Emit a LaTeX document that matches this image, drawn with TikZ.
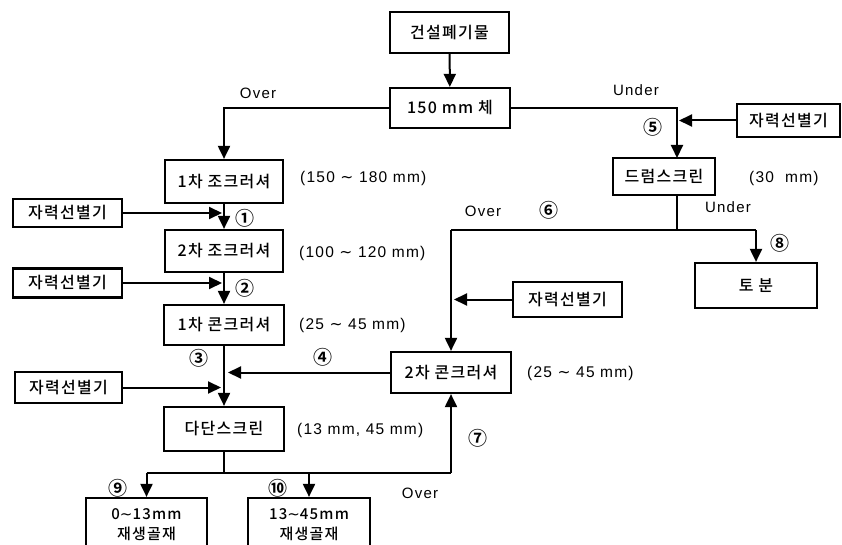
\documentclass[tikz,border=0pt]{standalone}
\usepackage{fontspec}
\setmainfont{Noto Sans CJK KR}[BoldFont={Noto Sans CJK KR Bold}]
\newfontfamily\krbox{Noto Sans CJK KR Medium}[LetterSpace=8]
\newfontfamily\latin{Liberation Sans}[LetterSpace=8]
\newfontfamily\dvs{DejaVu Sans}
\newcommand\wave{{\dvs ∼}}
\usetikzlibrary{arrows.meta}
\tikzset{
  box/.style={draw, line width=2.2pt, inner sep=0pt, font=\krbox\fontsize{16}{18}\selectfont},
  lbl/.style={inner sep=0pt, font=\latin\fontsize{15}{17}\selectfont},
  rng/.style={inner sep=0pt, anchor=west, font=\latin\fontsize{15.5}{17}\selectfont},
  num/.style={inner sep=0pt, font=\bfseries\fontsize{19}{20}\selectfont},
  arr/.style={line width=2pt, -{Triangle[length=13pt,width=12pt]}},
  ln/.style={line width=2pt},
}
\begin{document}
\begin{tikzpicture}[x=1pt,y=-1pt]
\useasboundingbox (0,0) rectangle (842,545);
\clip (0,0) rectangle (842,545);
% boxes
\node[box, minimum width=119pt, minimum height=41pt] (src) at (449.5,32.5) {건설폐기물};
\node[box, minimum width=120pt, minimum height=40pt] (sieve) at (450,108) {150 mm 체};
\node[box, minimum width=118pt, minimum height=43pt] (jaw1) at (224,181.5) {1차 조크러셔};
\node[box, minimum width=118pt, minimum height=42pt] (jaw2) at (224,251) {2차 조크러셔};
\node[box, minimum width=120pt, minimum height=40pt] (cone1) at (224,325) {1차 콘크러셔};
\node[box, minimum width=120pt, minimum height=44pt] (multi) at (224,429) {다단스크린};
\node[box, minimum width=102pt, minimum height=37pt] (drum) at (664,176.5) {드럼스크린};
\node[box, minimum width=122pt, minimum height=45pt] (soil) at (756,285.5) {토 분};
\node[box, minimum width=120pt, minimum height=41pt] (cone2) at (451,372.5) {2차 콘크러셔};
\node[box, minimum width=103pt, minimum height=33pt] (magR) at (788.5,120.5) {자력선별기};
\node[box, minimum width=109pt, minimum height=28pt] (mag1) at (67.5,213) {자력선별기};
\node[box, minimum width=109pt, minimum height=29pt] (mag2) at (67.5,283) {자력선별기};
\node[box, minimum width=107pt, minimum height=31pt] (mag3) at (68.5,387.5) {자력선별기};
\node[box, minimum width=109pt, minimum height=35pt] (magM) at (567.5,299.5) {자력선별기};
\node[box, minimum width=121pt, minimum height=54pt, align=center, font=\krbox\fontsize{15}{20}\selectfont] (out1) at (146.5,525) {0\wave13mm\\재생골재};
\node[box, minimum width=122pt, minimum height=54pt, align=center, font=\krbox\fontsize{15}{20}\selectfont] (out2) at (309,525) {13\wave45mm\\재생골재};
% coordinates
\coordinate (dtop) at (677,158);
\coordinate (dbot) at (677,195);
\coordinate (split) at (677,230);
\coordinate (ovL) at (451,230);
\coordinate (unR) at (756,230);
\coordinate (mainL) at (228,372.5);
\coordinate (bot) at (224,473);
\coordinate (botL) at (146.5,473);
\coordinate (botR) at (451,473);
% connectors
\draw[arr] (src) -- (sieve);
\draw[arr] (sieve.west) -| (jaw1.north);
\draw[arr] (sieve.east) -| (dtop);
\draw[arr] (magR.west) -- (magR.west -| 679,0);
\draw[ln] (dbot) -- (split);
\draw[ln] (ovL) -- (unR);
\draw[arr] (unR) -- (soil.north);
\draw[arr] (ovL) -- (cone2.north);
\draw[arr] (magM.west) -- (magM.west -| 454,0);
\draw[arr] (jaw1) -- (jaw2);
\draw[arr] (jaw2) -- (cone1);
\draw[arr] (cone1) -- (multi);
\draw[arr] (mag1.east) -- (mag1.east -| 222,0);
\draw[arr] (mag2.east) -- (mag2.east -| 222,0);
\draw[arr] (mag3.east) -- (mag3.east -| 221,0);
\draw[arr] (cone2.west) -- (mainL);
\draw[ln] (multi.south) -- (bot);
\draw[ln] (botL) -- (botR);
\draw[arr] (botR) -- (cone2.south);
\draw[arr] (botL) -- (out1.north);
\draw[arr] (botL -| 309,0) -- (out2.north);
% labels
\node[lbl] at (258,93) {Over};
\node[lbl] at (636,90) {Under};
\node[num] at (653,127) {⑤};
\node[rng] at (749,178) {(30\ \ mm)};
\node[lbl] at (728,207) {Under};
\node[lbl] at (483,211) {Over};
\node[num] at (549,210) {⑥};
\node[num] at (780,243) {⑧};
\node[rng] at (300,178) {(150 \wave\ 180 mm)};
\node[num] at (245,218) {①};
\node[rng] at (299,253) {(100 \wave\ 120 mm)};
\node[num] at (245,288) {②};
\node[rng] at (299,325) {(25 \wave\ 45 mm)};
\node[num] at (199,358) {③};
\node[num] at (323,357) {④};
\node[rng] at (527,373) {(25 \wave\ 45 mm)};
\node[rng] at (297,430) {(13 mm, 45 mm)};
\node[num] at (478,438) {⑦};
\node[lbl] at (420,493) {Over};
\node[num] at (118,488) {⑨};
\node[num] at (278,488) {⑩};
\end{tikzpicture}
\end{document}
